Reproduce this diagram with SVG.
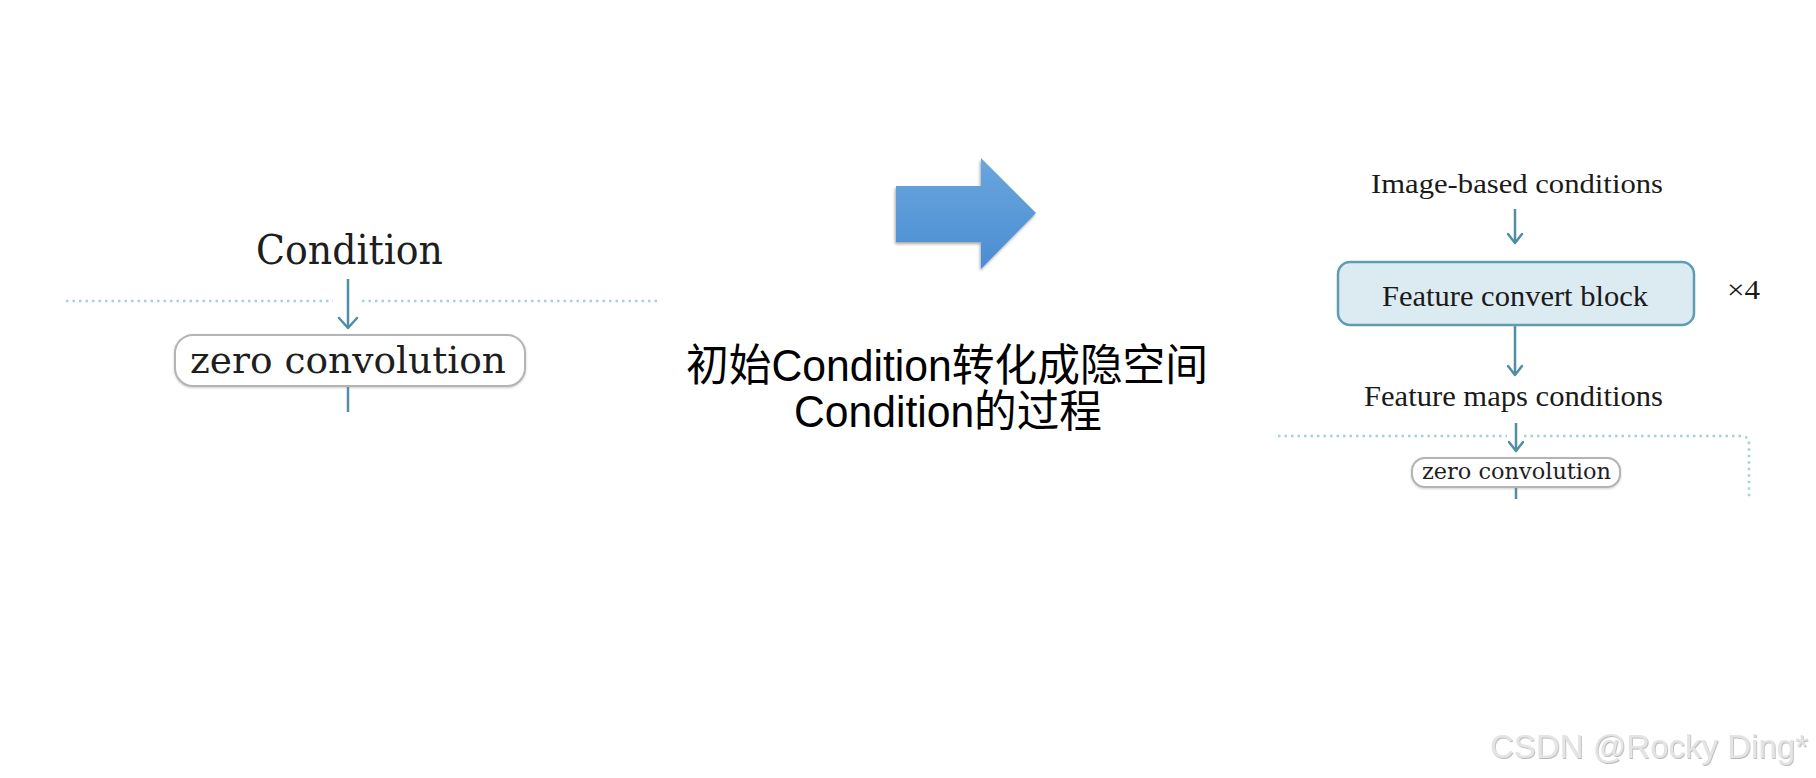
<svg xmlns="http://www.w3.org/2000/svg" width="1816" height="778" viewBox="0 0 1816 778">
<style>
.serif{font-family:"Liberation Serif","DejaVu Serif",serif;fill:#1a1a1a}
.gserif{font-family:"DejaVu Serif","Liberation Serif",serif;fill:#1e1e1e}
.cjk{font-family:"Liberation Sans","Noto Sans CJK SC",sans-serif;fill:#000;font-size:44px}
.dot{fill:none;stroke:#a3d2db;stroke-width:2.5;stroke-dasharray:2.5 4}
.flow{fill:none;stroke:#4f8ea3;stroke-width:2.5}
.head{fill:none;stroke:#4f8ea3;stroke-width:2.5;stroke-linecap:round;stroke-linejoin:round}
.pill{fill:#fff;stroke:#b4b4b4;stroke-width:2}
</style>
<defs>
<linearGradient id="bg" x1="0" y1="0" x2="0" y2="1">
<stop offset="0" stop-color="#6aa6de"/>
<stop offset="1" stop-color="#4b8dd2"/>
</linearGradient>
<filter id="sh" x="-10%" y="-10%" width="130%" height="130%">
<feDropShadow dx="-1" dy="2" stdDeviation="1.5" flood-color="#000" flood-opacity="0.35"/>
</filter>
<filter id="soft" x="-5%" y="-20%" width="110%" height="140%">
<feDropShadow dx="0" dy="1" stdDeviation="1" flood-color="#888" flood-opacity="0.4"/>
</filter>
<filter id="emb" x="-5%" y="-20%" width="110%" height="140%">
<feDropShadow dx="0.8" dy="1" stdDeviation="0.4" flood-color="#9a9a9a" flood-opacity="0.7"/>
</filter>
</defs>

<g id="connectors">
<!-- left -->
<line class="dot" x1="66" y1="301" x2="333" y2="301"/>
<line class="dot" x1="362" y1="301" x2="657" y2="301"/>
<line class="flow" x1="348" y1="279" x2="348" y2="326"/>
<polyline class="head" points="339,318 348,328 357,318"/>
<line class="flow" x1="348" y1="387" x2="348" y2="412"/>
<!-- right -->
<line class="flow" x1="1515" y1="209" x2="1515" y2="242"/>
<polyline class="head" points="1508,234 1515,243 1522,234"/>
<line class="flow" x1="1515" y1="326" x2="1515" y2="374"/>
<polyline class="head" points="1508,366 1515,375 1522,366"/>
<line class="dot" x1="1278" y1="436" x2="1507" y2="436"/>
<path class="dot" d="M1524,436 H1741 Q1749,436 1749,444 V500"/>
<line class="flow" x1="1516" y1="423" x2="1516" y2="450"/>
<polyline class="head" points="1509,442 1516,451 1523,442"/>
<line class="flow" x1="1516" y1="488" x2="1516" y2="499"/>
</g>

<g id="condition">
<text class="gserif" x="256" y="264" font-size="41" textLength="187" lengthAdjust="spacingAndGlyphs">Condition</text>
</g>

<g id="zero-conv-left">
<rect class="pill" x="175" y="335" width="350" height="51" rx="18" filter="url(#soft)"/>
<text class="gserif" x="190" y="373" font-size="37" textLength="316" lengthAdjust="spacingAndGlyphs">zero convolution</text>
</g>

<g id="big-arrow">
<polygon points="896,186 981,186 981,158 1036,213 981,269 981,242 896,242" fill="url(#bg)" filter="url(#sh)"/>
</g>

<g id="caption">
<text class="cjk" x="686" y="381" textLength="522" lengthAdjust="spacingAndGlyphs">初始Condition转化成隐空间</text>
<text class="cjk" x="794" y="427" textLength="308" lengthAdjust="spacingAndGlyphs">Condition的过程</text>
</g>

<g id="image-based">
<text class="serif" x="1371" y="193" font-size="28" textLength="292" lengthAdjust="spacingAndGlyphs">Image-based conditions</text>
</g>

<g id="feature-convert">
<rect x="1338" y="262" width="356" height="63" rx="12" fill="#dcebf1" stroke="#5e9cb1" stroke-width="2.5"/>
<text class="serif" x="1382" y="306" font-size="30" textLength="266" lengthAdjust="spacingAndGlyphs">Feature convert block</text>
</g>

<g id="times4">
<text class="serif" x="1727" y="299" font-size="27" fill="#333" textLength="33" lengthAdjust="spacingAndGlyphs">×4</text>
</g>

<g id="feature-maps">
<text class="serif" x="1364" y="406" font-size="29" textLength="299" lengthAdjust="spacingAndGlyphs">Feature maps conditions</text>
</g>

<g id="zero-conv-right">
<rect class="pill" x="1412" y="458" width="208" height="29" rx="13" filter="url(#soft)"/>
<text class="gserif" x="1422" y="479" font-size="23" textLength="189" lengthAdjust="spacingAndGlyphs">zero convolution</text>
</g>

<g id="watermark">
<text x="1490" y="758" font-family="Liberation Sans, Arial, sans-serif" font-size="33" fill="#e4e4e4" filter="url(#emb)" textLength="318" lengthAdjust="spacingAndGlyphs">CSDN @Rocky Ding*</text>
</g>
</svg>
